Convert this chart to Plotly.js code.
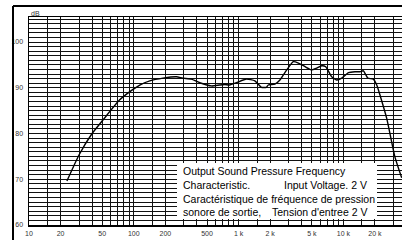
<!DOCTYPE html>
<html>
<head>
<meta charset="utf-8">
<script src="https://cdn.plot.ly/plotly-3.0.1.min.js"></script>
<style>
html,body{margin:0;padding:0;background:#fff;overflow:hidden;width:402px;height:240px;}
#chart{width:412px;height:240px;}
</style>
</head>
<body>
<div id="chart"></div>
<script>
// Frequency response data (Hz, dB)
const freqHz = [23, 30, 40, 51, 73, 91, 114, 142, 190, 255, 294, 355, 426, 550, 661, 740, 822, 953, 1190, 1430, 1650, 1840, 1920, 2220, 2480, 2880, 3330, 3720, 4310, 4990, 5560, 6210, 6780, 7730, 8630, 9640, 11200, 12900, 14400, 15500, 17100, 19300, 20800, 25900, 31000, 36000];
const levelDb = [69.6, 75.3, 80.0, 83.0, 87.3, 89.1, 90.6, 91.5, 92.1, 92.4, 92.1, 91.9, 91.1, 90.4, 90.6, 90.7, 90.6, 91.1, 91.9, 91.5, 90.1, 90.1, 90.6, 90.8, 91.7, 93.9, 95.7, 95.4, 94.6, 93.9, 94.3, 94.8, 94.6, 92.4, 91.7, 92.1, 93.3, 93.5, 93.5, 93.7, 92.1, 91.9, 90.6, 83.3, 74.9, 70.3];

// Axis labels
const xTickVals = [10, 20, 50, 100, 200, 500, 1000, 2000, 5000, 10000, 20000, 40000];
const xTickText = ['10', '20', '50', '100', '200', '500', '1 k', '2 k', '5 k', '10 k', '20 k', '40 k'];
const yTickVals = [60, 70, 80, 90, 100];
const yTickText = ['60', '70', '80', '90', '100'];
const gridMultipliers = [1, 1.5, 2, 3, 4, 5, 6, 7, 8, 9];
const gridDecades = [10, 100, 1000, 10000];
const unitLabel = 'dB';
const captionLines = [
  'Output Sound Pressure Frequency',
  'Characteristic.',
  'Input Voltage. 2 V',
  'Caractéristique de fréquence de pression',
  'sonore de sortie,',
  "Tension d'entree 2 V"
];

const gridFreqs = [];
gridDecades.forEach(d => gridMultipliers.forEach(m => gridFreqs.push(d * m)));

// layout geometry (pixels)
const W = 412, H = 240, ML = 29, MT = 17, MB = 15;
const PW = W - ML, PH = H - MT - MB;
const pxPerDecade = 104.8, pxPerDb = 4.575;
const px = x => (x - ML) / PW;
const py = y => (MT + PH - y) / PH;

const tickFont = {family: 'Liberation Sans Narrow, Arial Narrow, Liberation Sans, Arial, sans-serif', size: 7, color: '#333'};
const capFont = {family: 'Liberation Sans, Arial, Helvetica, sans-serif', size: 10.5, color: '#000'};

const trace = {
  type: 'scatter', mode: 'lines',
  x: freqHz, y: levelDb,
  line: {color: '#000', width: 1.4, shape: 'spline', smoothing: 0.5},
  hoverinfo: 'skip', showlegend: false
};

const gridColor = '#111';
const layout = {
  width: W, height: H,
  margin: {l: ML, r: 0, t: MT, b: MB, pad: 0},
  paper_bgcolor: '#fff', plot_bgcolor: '#fff',
  showlegend: false,
  xaxis: {
    type: 'log',
    range: [1, 1 + PW / pxPerDecade],
    tickmode: 'array', tickvals: xTickVals, ticktext: xTickText,
    ticks: '', tickfont: tickFont, ticklabelstandoff: 1,
    showgrid: true, gridcolor: gridColor, gridwidth: 1,
    minor: {tickmode: 'array', tickvals: gridFreqs, showgrid: true, gridcolor: gridColor, gridwidth: 1, ticks: ''},
    showline: true, linecolor: '#000', linewidth: 1.5, mirror: true,
    zeroline: false, fixedrange: true
  },
  yaxis: {
    range: [60, 60 + PH / pxPerDb],
    tickmode: 'array', tickvals: yTickVals, ticktext: yTickText,
    ticks: '', tickfont: tickFont, ticklabelstandoff: 3,
    showgrid: true, gridcolor: gridColor, gridwidth: 1,
    minor: {tick0: 60, dtick: 1, showgrid: true, gridcolor: gridColor, gridwidth: 1, ticks: ''},
    showline: true, linecolor: '#000', linewidth: 1.5, mirror: true,
    zeroline: false, fixedrange: true
  },
  shapes: [
    {type: 'line', xref: 'paper', yref: 'paper', x0: px(13), x1: px(13), y0: py(6), y1: py(250), line: {color: '#000', width: 2}},
    {type: 'line', xref: 'paper', yref: 'paper', x0: px(13), x1: px(430), y0: py(6), y1: py(6), line: {color: '#000', width: 2}},
    {type: 'rect', xref: 'paper', yref: 'paper', x0: px(177), x1: px(377), y0: py(219), y1: py(163), fillcolor: '#fff', line: {width: 0}, layer: 'above'}
  ],
  annotations: [
    {xref: 'paper', yref: 'paper', x: px(29), y: py(13.5), text: unitLabel, showarrow: false, xanchor: 'left', yanchor: 'middle', font: {family: tickFont.family, size: 7, color: '#333'}},
    {xref: 'paper', yref: 'paper', x: px(181), y: py(170.5), text: captionLines[0], showarrow: false, xanchor: 'left', yanchor: 'middle', font: capFont},
    {xref: 'paper', yref: 'paper', x: px(181), y: py(184.5), text: captionLines[1], showarrow: false, xanchor: 'left', yanchor: 'middle', font: capFont},
    {xref: 'paper', yref: 'paper', x: px(369), y: py(184.5), text: captionLines[2], showarrow: false, xanchor: 'right', yanchor: 'middle', font: capFont},
    {xref: 'paper', yref: 'paper', x: px(181), y: py(198.5), text: captionLines[3], showarrow: false, xanchor: 'left', yanchor: 'middle', font: capFont},
    {xref: 'paper', yref: 'paper', x: px(181), y: py(212), text: captionLines[4], showarrow: false, xanchor: 'left', yanchor: 'middle', font: capFont},
    {xref: 'paper', yref: 'paper', x: px(369), y: py(212), text: captionLines[5], showarrow: false, xanchor: 'right', yanchor: 'middle', font: capFont}
  ]
};

Plotly.newPlot('chart', [trace], layout, {staticPlot: true, displayModeBar: false});
</script>
</body>
</html>
